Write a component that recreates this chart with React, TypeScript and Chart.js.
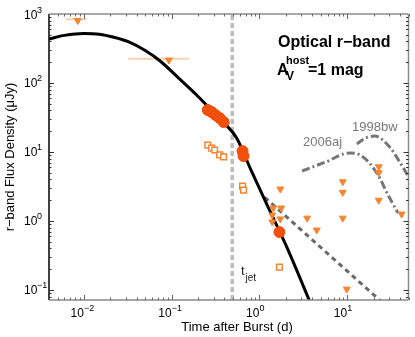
import React, { useEffect, useRef } from 'react';
import { Chart, registerables } from 'chart.js';
Chart.register(...registerables);

// Model light curve (black)
const modelT = [0.004, 0.006, 0.01, 0.015, 0.022, 0.032, 0.05, 0.075, 0.12, 0.19, 0.28, 0.4, 0.55, 0.8, 1.2, 2, 4];
const modelF = [435, 490, 522, 510, 460, 397, 295, 205, 118, 68, 41, 26, 16, 5.5, 1.8, 0.45, 0.056];

// Detections (filled circles)
const detT = [0.258, 0.286, 0.317, 0.352, 0.391, 0.642, 0.659, 1.69];
const detF = [40.6, 37.9, 34.2, 31.0, 27.2, 10.3, 8.7, 0.69];

// Open squares
const sqT = [0.258, 0.286, 0.309, 0.352, 0.391, 0.642, 0.659, 1.69];
const sqF = [12.6, 11.4, 10.7, 9.06, 8.5, 3.2, 2.8, 0.215];

// Upper limits (down triangles)
const limT = [0.0085, 0.093, 1.73, 1.44, 1.77, 1.40, 1.73, 1.40, 3.5, 4.5, 8.9, 8.9, 8.9, 9.9, 22.9, 22.9, 22.9, 41.7];
const limF = [805, 215, 2.9, 1.54, 1.54, 1.22, 1.07, 0.97, 1.1, 0.74, 3.7, 2.6, 1.1, 0.103, 6.1, 5.0, 2.0, 1.26];

// Horizontal exposure bars of the two early limits
const barF = [838, 225];
const barLo = [0.0062, 0.032];
const barHi = [0.0107, 0.157];

// Jet break time
const tJet = [0.49, 0.49];
const tJetF = [0.0716, 1000];

// Power-law (dark dashed)
const plT = [1.15, 30];
const plF = [2.2, 0.054];

// Supernova templates
const sn2006ajT = [3.07, 5.74, 10.7, 13.9, 18.0, 23.5, 28.2, 38];
const sn2006ajF = [5.3, 7.2, 9.7, 9.1, 6.9, 4.2, 2.6, 1.3];
const sn1998bwT = [12.9, 16.3, 20.5, 30.5, 42.8, 54];
const sn1998bwF = [13.1, 16, 17, 11.8, 6.1, 3.7];

// Axis ticks
const xTickExp = [-2, -1, 0, 1];
const yTickExp = [-1, 0, 1, 2, 3];

const FONT = '"Liberation Sans", Arial, Helvetica, sans-serif';

const zip = (a: number[], b: number[]) => a.map((v, i) => ({ x: v, y: b[i] }));

const decor = {
  id: 'decor',
  beforeDatasetsDraw(chart: any) {
    const { ctx, scales: { x, y } } = chart;
    ctx.save();
    ctx.strokeStyle = '#FCD2AE';
    ctx.lineWidth = 2;
    for (let i = 0; i < barF.length; i++) {
      const py = y.getPixelForValue(barF[i]);
      ctx.beginPath();
      ctx.moveTo(x.getPixelForValue(barLo[i]), py);
      ctx.lineTo(x.getPixelForValue(barHi[i]), py);
      ctx.stroke();
    }
    ctx.restore();
  },
  afterDraw(chart: any) {
    const { ctx, chartArea: a, scales: { x, y } } = chart;
    ctx.save();
    // frame
    ctx.lineWidth = 1.5;
    ctx.strokeStyle = '#8a8a8a';
    ctx.beginPath();
    ctx.moveTo(a.left, a.top); ctx.lineTo(a.right, a.top);
    ctx.moveTo(a.right, a.top); ctx.lineTo(a.right, a.bottom);
    ctx.moveTo(a.left, a.bottom); ctx.lineTo(a.right, a.bottom);
    ctx.stroke();
    ctx.strokeStyle = '#000';
    ctx.beginPath();
    ctx.moveTo(a.left, a.top); ctx.lineTo(a.left, a.bottom);
    ctx.stroke();
    // ticks
    ctx.lineWidth = 1;
    for (let d = -3; d <= 2; d++) {
      for (let m = 1; m <= 9; m++) {
        const v = m * Math.pow(10, d);
        const len = m === 1 ? 5 : 2.5;
        if (v >= x.min && v <= x.max) {
          const px = Math.round(x.getPixelForValue(v)) + 0.5;
          ctx.strokeStyle = '#666';
          ctx.beginPath();
          ctx.moveTo(px, a.bottom); ctx.lineTo(px, a.bottom - len);
          ctx.moveTo(px, a.top); ctx.lineTo(px, a.top + len);
          ctx.stroke();
        }
        if (v >= y.min && v <= y.max) {
          const py = Math.round(y.getPixelForValue(v)) + 0.5;
          ctx.strokeStyle = '#333';
          ctx.beginPath();
          ctx.moveTo(a.left, py); ctx.lineTo(a.left + len, py);
          ctx.moveTo(a.right, py); ctx.lineTo(a.right - len, py);
          ctx.stroke();
        }
      }
    }
    // tick labels
    ctx.fillStyle = '#000';
    ctx.textBaseline = 'alphabetic';
    for (const e of xTickExp) {
      const px = x.getPixelForValue(Math.pow(10, e));
      ctx.font = `12px ${FONT}`;
      ctx.textAlign = 'right';
      ctx.fillText('10', px, 317);
      ctx.font = `9px ${FONT}`;
      ctx.textAlign = 'left';
      ctx.fillText(e < 0 ? '\u2212' + Math.abs(e) : String(e), px, 311);
    }
    for (const e of yTickExp) {
      const py = y.getPixelForValue(Math.pow(10, e));
      ctx.font = `12px ${FONT}`;
      ctx.textAlign = 'left';
      ctx.fillText('10', 24, py + 4.5);
      ctx.font = `9px ${FONT}`;
      ctx.fillText(e < 0 ? '\u2212' + Math.abs(e) : String(e), 37, py - 1.5);
    }
    // axis titles
    ctx.font = `13px ${FONT}`;
    ctx.textAlign = 'center';
    ctx.fillText('Time after Burst (d)', 237, 331);
    ctx.save();
    ctx.translate(14, 157);
    ctx.rotate(-Math.PI / 2);
    ctx.fillText('r\u2212band Flux Density (\u03bcJy)', 0, 0);
    ctx.restore();
    // title annotation
    ctx.textAlign = 'left';
    ctx.font = `bold 16px ${FONT}`;
    ctx.fillText('Optical r\u2212band', 278, 47);
    ctx.fillText('A', 277, 75);
    ctx.font = `bold 11px ${FONT}`;
    ctx.fillText('host', 286, 64);
    ctx.font = `bold 12px ${FONT}`;
    ctx.fillText('V', 286, 80);
    ctx.font = `bold 16px ${FONT}`;
    ctx.fillText('=1 mag', 308, 75);
    // t_jet
    ctx.fillStyle = '#222';
    ctx.font = `13px ${FONT}`;
    ctx.fillText('t', 241, 275);
    ctx.font = `10px ${FONT}`;
    ctx.fillText('jet', 245.5, 281);
    // SN labels
    ctx.fillStyle = '#777';
    ctx.font = `13px ${FONT}`;
    ctx.fillText('2006aj', 303, 146);
    ctx.fillText('1998bw', 352, 131);
    ctx.restore();
  },
};

export default function App() {
  const ref = useRef<HTMLCanvasElement>(null);
  useEffect(() => {
    document.body.style.margin = '0';
    const chart = new Chart(ref.current!, {
      type: 'scatter',
      data: {
        datasets: [
          {
            label: 'detections',
            data: zip(detT, detF),
            pointStyle: 'circle',
            pointRadius: 5.5,
            backgroundColor: '#F24E0C',
            borderColor: '#F24E0C',
            borderWidth: 1,
          },
          {
            label: 'limits',
            data: zip(limT, limF),
            pointStyle: 'triangle',
            pointRotation: 180,
            pointRadius: 4,
            backgroundColor: '#F7852F',
            borderColor: '#F7852F',
            borderWidth: 1,
          },
          {
            label: 'squares',
            data: zip(sqT, sqF),
            pointStyle: 'rect',
            pointRadius: 4,
            backgroundColor: '#ffffff',
            borderColor: '#F7852F',
            borderWidth: 1.5,
          },
          {
            label: 'model',
            data: zip(modelT, modelF),
            showLine: true,
            borderColor: '#000',
            borderWidth: 3,
            pointRadius: 0,
            cubicInterpolationMode: 'monotone',
            clip: 0,
          },
          {
            label: 'powerlaw',
            data: zip(plT, plF),
            showLine: true,
            borderColor: '#6a6a6a',
            borderWidth: 3,
            borderDash: [5, 4],
            pointRadius: 0,
            clip: 0,
          },
          {
            label: 'sn2006aj',
            data: zip(sn2006ajT, sn2006ajF),
            showLine: true,
            borderColor: '#767676',
            borderWidth: 3,
            borderDash: [8, 3, 2, 3],
            pointRadius: 0,
            cubicInterpolationMode: 'monotone',
            clip: 0,
          },
          {
            label: 'sn1998bw',
            data: zip(sn1998bwT, sn1998bwF),
            showLine: true,
            borderColor: '#767676',
            borderWidth: 3,
            borderDash: [8, 3, 2, 3],
            pointRadius: 0,
            cubicInterpolationMode: 'monotone',
            clip: 0,
          },
          {
            label: 'tjet',
            data: zip(tJet, tJetF),
            showLine: true,
            borderColor: '#BDBDBD',
            borderWidth: 3.5,
            borderDash: [5, 3],
            pointRadius: 0,
            clip: 0,
          },
        ],
      },
      options: {
        animation: false,
        responsive: true,
        maintainAspectRatio: false,
        layout: { padding: { left: 49, right: 4, top: 14, bottom: 37 } },
        plugins: { legend: { display: false }, tooltip: { enabled: false } },
        scales: {
          x: { type: 'logarithmic', min: 0.004, max: 50, display: false },
          y: { type: 'logarithmic', min: 0.0716, max: 1000, display: false },
        },
      },
      plugins: [decor],
    } as any);
    return () => chart.destroy();
  }, []);
  return (
    <div style={{ width: 415, height: 337, position: 'relative' }}>
      <canvas ref={ref} style={{ display: 'block' }} />
    </div>
  );
}
